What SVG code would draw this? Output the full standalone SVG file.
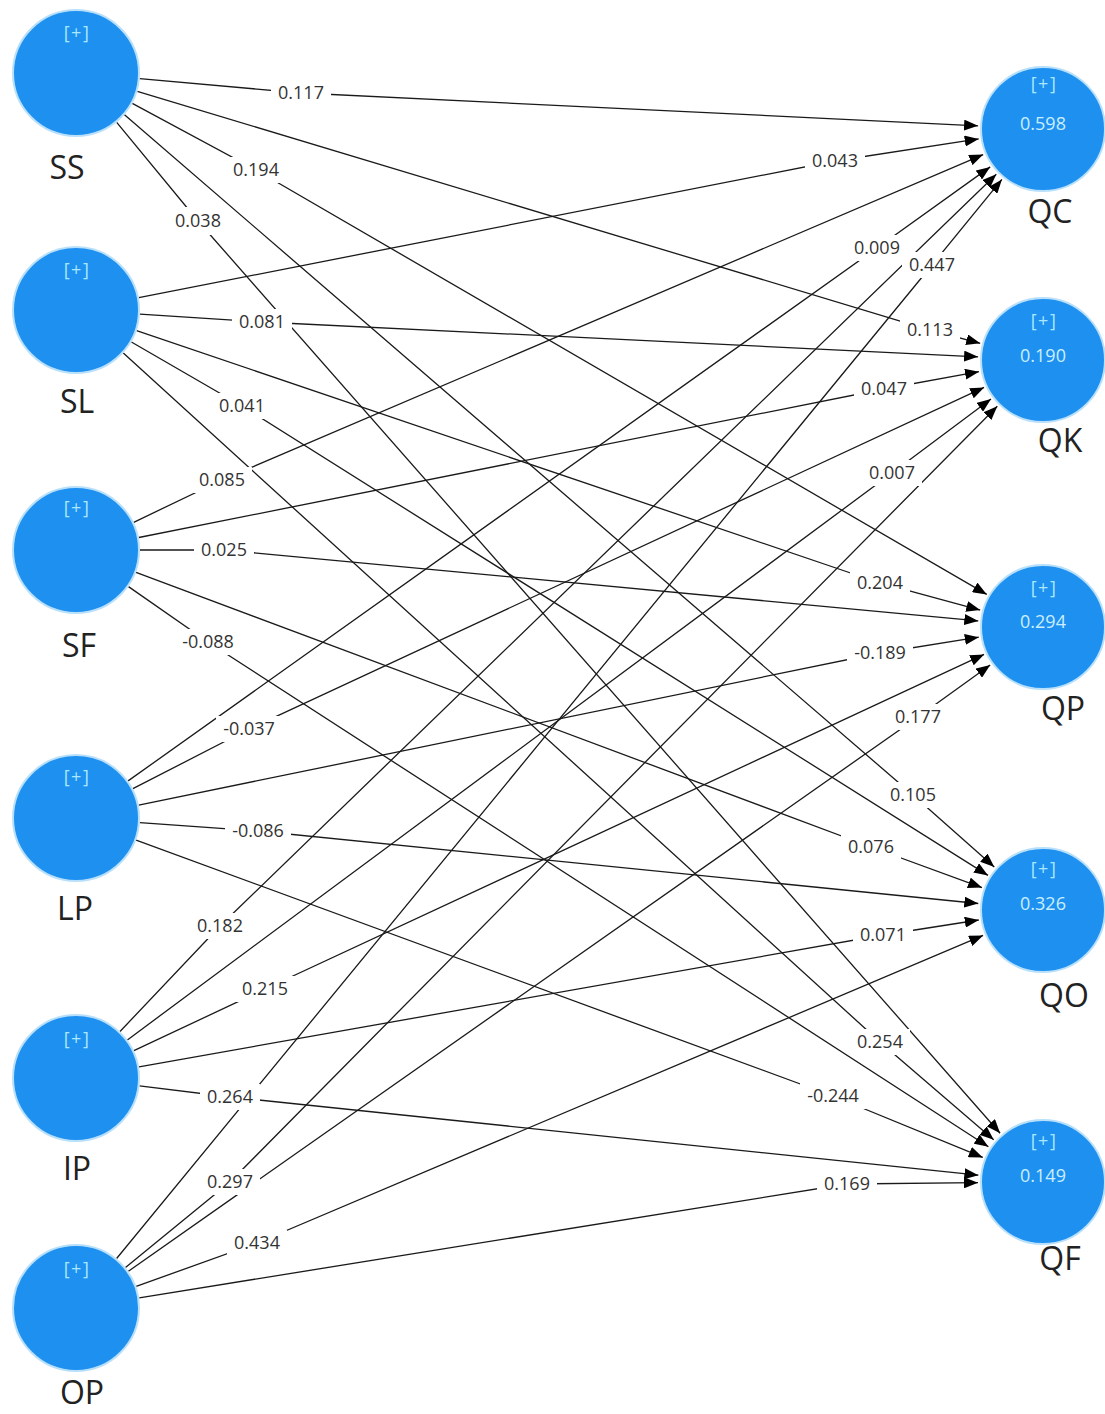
<svg xmlns="http://www.w3.org/2000/svg" width="1105" height="1414" viewBox="0 0 1105 1414">
<defs>
<marker id="arr" markerWidth="14" markerHeight="11" refX="14" refY="5.5" orient="auto" markerUnits="userSpaceOnUse"><path d="M0,0 L14,5.5 L0,11 z" fill="#000"/></marker>
<style>
.c{fill:none;stroke:#1a1a1a;stroke-width:1.3;marker-end:url(#arr)}
.lb{fill:#fff}
.lt{font-family:"Open Sans","Noto Sans","DejaVu Sans",sans-serif;font-size:18px;fill:#333;text-anchor:middle}
.n{fill:#1e90f0;stroke:#b9e0fb;stroke-width:2}
.pl{font-family:"Open Sans","Noto Sans",sans-serif;font-size:18px;fill:#a9e8ff;text-anchor:middle;letter-spacing:1.5px}
.rv{font-family:"Open Sans","Noto Sans",sans-serif;font-size:18px;fill:#c9efff;text-anchor:middle}
.nm{font-family:"Open Sans","Noto Sans",sans-serif;font-size:32px;fill:#222;text-anchor:middle}
</style>
</defs>
<rect width="1105" height="1414" fill="#fff"/>
<g id="connectors">
<path class="c" d="M139.7,78.7 L301,93 L978.1,125.8"/>
<path class="c" d="M137.3,91.4 L930,330 L980.2,343.3"/>
<path class="c" d="M132.3,103.4 L256,170 L986.8,594.4"/>
<path class="c" d="M124.5,114.8 L913,795 L994.3,866.9"/>
<path class="c" d="M116.7,122.4 L198,221 L1000.1,1133.2"/>
<path class="c" d="M138.8,297.7 L835,161 L978.7,138.9"/>
<path class="c" d="M139.9,314.1 L262,322 L978.1,356.8"/>
<path class="c" d="M136.6,330.6 L880,583 L980.2,610.1"/>
<path class="c" d="M131.4,342.0 L242,406 L988.0,875.4"/>
<path class="c" d="M123.3,353.1 L880,1042 L993.7,1139.7"/>
<path class="c" d="M133.7,522.3 L222,480 L983.2,154.6"/>
<path class="c" d="M138.8,537.5 L884,389 L979.0,371.7"/>
<path class="c" d="M140,550 L224,550 L978.3,620.9"/>
<path class="c" d="M136.0,572.4 L871,847 L982.0,887.6"/>
<path class="c" d="M128.5,586.6 L208,642 L988.4,1146.7"/>
<path class="c" d="M128.1,780.9 L877,248 L990.2,166.9"/>
<path class="c" d="M132.9,788.7 L249,729 L984.1,387.4"/>
<path class="c" d="M138.7,805.1 L880,653 L978.8,637.2"/>
<path class="c" d="M139.8,822.6 L258,831 L978.3,903.5"/>
<path class="c" d="M136.1,840.1 L833,1096 L982.8,1157.4"/>
<path class="c" d="M120.0,1031.5 L220,926 L996.3,174.2"/>
<path class="c" d="M127.4,1039.9 L892,473 L991.0,398.9"/>
<path class="c" d="M133.9,1050.7 L265,989 L984.1,654.4"/>
<path class="c" d="M139.0,1066.8 L883,935 L978.8,920.0"/>
<path class="c" d="M139.5,1085.8 L230,1097 L978.4,1175.2"/>
<path class="c" d="M116.6,1258.5 L932,265 L1001.9,179.4"/>
<path class="c" d="M125.5,1267.5 L230,1182 L997.3,406.2"/>
<path class="c" d="M128.4,1271.2 L918,717 L990.2,665.0"/>
<path class="c" d="M136.2,1286.4 L257,1243 L983.1,935.4"/>
<path class="c" d="M139.2,1297.8 L847,1184 L978.0,1182.7"/>
<g id="path-labels">
<rect class="lb" x="271" y="80" width="60" height="26"/><text class="lt" x="301" y="99">0.117</text>
<rect class="lb" x="900" y="317" width="60" height="26"/><text class="lt" x="930" y="336">0.113</text>
<rect class="lb" x="226" y="157" width="60" height="26"/><text class="lt" x="256" y="176">0.194</text>
<rect class="lb" x="883" y="782" width="60" height="26"/><text class="lt" x="913" y="801">0.105</text>
<rect class="lb" x="168" y="207" width="60" height="28"/><text class="lt" x="198" y="227">0.038</text>
<rect class="lb" x="805" y="148" width="60" height="26"/><text class="lt" x="835" y="167">0.043</text>
<rect class="lb" x="232" y="309" width="60" height="26"/><text class="lt" x="262" y="328">0.081</text>
<rect class="lb" x="850" y="570" width="60" height="26"/><text class="lt" x="880" y="589">0.204</text>
<rect class="lb" x="212" y="393" width="60" height="26"/><text class="lt" x="242" y="412">0.041</text>
<rect class="lb" x="850" y="1029" width="60" height="26"/><text class="lt" x="880" y="1048">0.254</text>
<rect class="lb" x="192" y="467" width="60" height="26"/><text class="lt" x="222" y="486">0.085</text>
<rect class="lb" x="854" y="376" width="60" height="26"/><text class="lt" x="884" y="395">0.047</text>
<rect class="lb" x="194" y="537" width="60" height="26"/><text class="lt" x="224" y="556">0.025</text>
<rect class="lb" x="841" y="834" width="60" height="26"/><text class="lt" x="871" y="853">0.076</text>
<rect class="lb" x="175" y="629" width="66" height="26"/><text class="lt" x="208" y="648">-0.088</text>
<rect class="lb" x="847" y="235" width="60" height="26"/><text class="lt" x="877" y="254">0.009</text>
<rect class="lb" x="216" y="716" width="66" height="26"/><text class="lt" x="249" y="735">-0.037</text>
<rect class="lb" x="847" y="640" width="66" height="26"/><text class="lt" x="880" y="659">-0.189</text>
<rect class="lb" x="225" y="818" width="66" height="26"/><text class="lt" x="258" y="837">-0.086</text>
<rect class="lb" x="800" y="1083" width="66" height="26"/><text class="lt" x="833" y="1102">-0.244</text>
<rect class="lb" x="190" y="913" width="60" height="26"/><text class="lt" x="220" y="932">0.182</text>
<rect class="lb" x="862" y="460" width="60" height="26"/><text class="lt" x="892" y="479">0.007</text>
<rect class="lb" x="235" y="976" width="60" height="26"/><text class="lt" x="265" y="995">0.215</text>
<rect class="lb" x="853" y="922" width="60" height="26"/><text class="lt" x="883" y="941">0.071</text>
<rect class="lb" x="200" y="1084" width="60" height="26"/><text class="lt" x="230" y="1103">0.264</text>
<rect class="lb" x="902" y="252" width="60" height="26"/><text class="lt" x="932" y="271">0.447</text>
<rect class="lb" x="200" y="1169" width="60" height="26"/><text class="lt" x="230" y="1188">0.297</text>
<rect class="lb" x="888" y="704" width="60" height="26"/><text class="lt" x="918" y="723">0.177</text>
<rect class="lb" x="227" y="1230" width="60" height="26"/><text class="lt" x="257" y="1249">0.434</text>
<rect class="lb" x="817" y="1171" width="60" height="26"/><text class="lt" x="847" y="1190">0.169</text>
</g>
</g>
<g id="node-SS"><circle class="n" cx="76" cy="73" r="63"/><text class="pl" x="77" y="39">[+]</text><text class="nm" x="67" y="179">SS</text></g>
<g id="node-SL"><circle class="n" cx="76" cy="310" r="63"/><text class="pl" x="77" y="276">[+]</text><text class="nm" x="77" y="413">SL</text></g>
<g id="node-SF"><circle class="n" cx="76" cy="550" r="63"/><text class="pl" x="77" y="514">[+]</text><text class="nm" x="79" y="657">SF</text></g>
<g id="node-LP"><circle class="n" cx="76" cy="818" r="63"/><text class="pl" x="77" y="783">[+]</text><text class="nm" x="75" y="920">LP</text></g>
<g id="node-IP"><circle class="n" cx="76" cy="1078" r="63"/><text class="pl" x="77" y="1045">[+]</text><text class="nm" x="77" y="1180">IP</text></g>
<g id="node-OP"><circle class="n" cx="76" cy="1308" r="63"/><text class="pl" x="77" y="1275">[+]</text><text class="nm" x="82" y="1404">OP</text></g>
<g id="node-QC"><circle class="n" cx="1043" cy="129" r="62"/><text class="pl" x="1044" y="90">[+]</text><text class="rv" x="1043" y="130">0.598</text><text class="nm" x="1050" y="223">QC</text></g>
<g id="node-QK"><circle class="n" cx="1043" cy="360" r="62"/><text class="pl" x="1044" y="327">[+]</text><text class="rv" x="1043" y="362">0.190</text><text class="nm" x="1060" y="452">QK</text></g>
<g id="node-QP"><circle class="n" cx="1043" cy="627" r="62"/><text class="pl" x="1044" y="594">[+]</text><text class="rv" x="1043" y="628">0.294</text><text class="nm" x="1063" y="720">QP</text></g>
<g id="node-QO"><circle class="n" cx="1043" cy="910" r="62"/><text class="pl" x="1044" y="875">[+]</text><text class="rv" x="1043" y="910">0.326</text><text class="nm" x="1064" y="1007">QO</text></g>
<g id="node-QF"><circle class="n" cx="1043" cy="1182" r="62"/><text class="pl" x="1044" y="1147">[+]</text><text class="rv" x="1043" y="1182">0.149</text><text class="nm" x="1060" y="1270">QF</text></g>
</svg>
